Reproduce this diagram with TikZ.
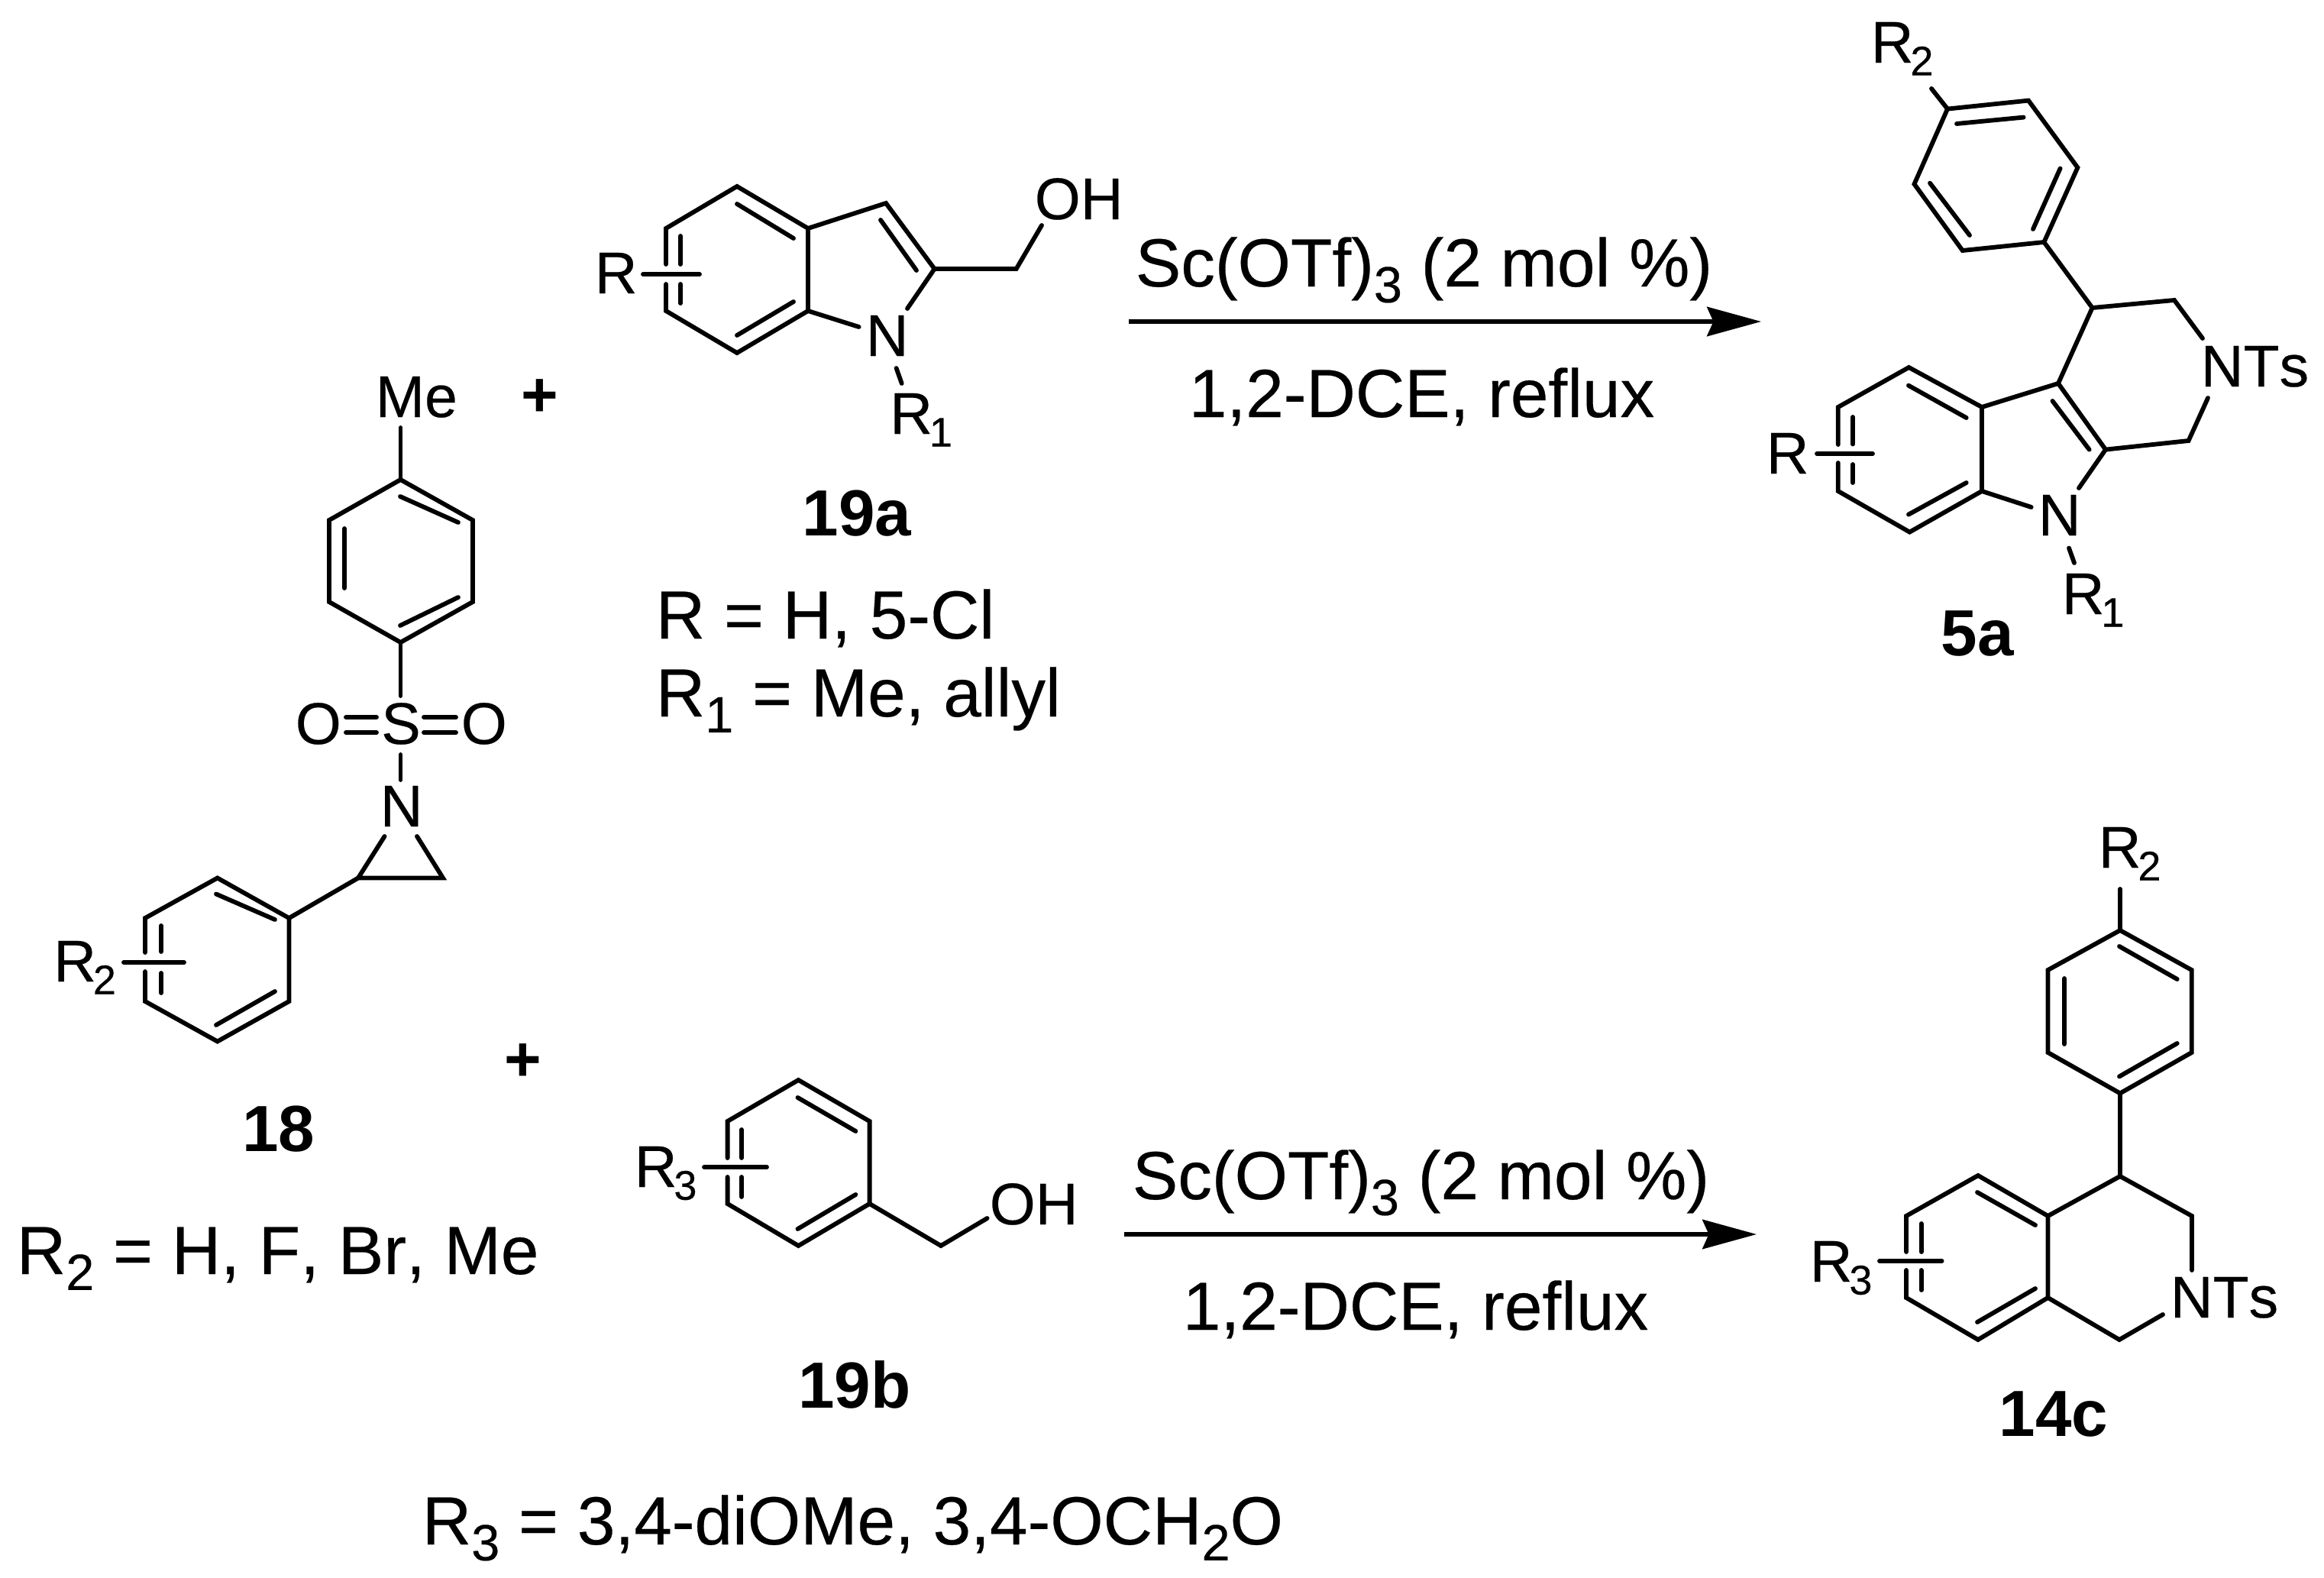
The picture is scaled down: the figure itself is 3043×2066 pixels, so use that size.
\documentclass[tikz,border=0pt]{standalone}
\usepackage{fontspec}
\setmainfont{Liberation Sans}[Kerning=Off]
\newfontfamily\hv{Liberation Sans}[FakeBold=0.3,Kerning=Off]
\usetikzlibrary{arrows.meta}
\newcommand{\chemf}{\hv\fontsize{18.5}{22}\selectfont}
\newcommand{\capf}{\hv\fontsize{21.4}{26}\selectfont}
\newcommand{\lblf}{\fontsize{20.5}{24}\selectfont\bfseries}
\newcommand{\csub}[1]{\kern-1pt\raisebox{-4pt}{\fontsize{13}{15}\selectfont #1}}
\newcommand{\bsub}[1]{\raisebox{-5pt}{\fontsize{16}{18}\selectfont #1}}
\tikzset{
  x=0.24pt,y=-0.24pt,
  bond/.style={line width=1.4pt,line cap=round,line join=miter,black},
  atomlab/.style={inner sep=0pt,anchor=base west,font=\chemf},
  captxt/.style={inner sep=0pt,anchor=base west,font=\capf},
  cmpd/.style={inner sep=0pt,anchor=base,font=\lblf},
  plusmark/.style={inner sep=0pt,font=\fontsize{20}{24}\selectfont\bfseries},
  rxnarrow/.style={line width=1.3pt,-{Stealth[length=17pt,width=9.2pt,inset=2pt]}}
}
\begin{document}
\begin{tikzpicture}
\useasboundingbox (0,0) rectangle (3043,2066);
% ---- 18
\coordinate (a1) at (524.5,628);\coordinate (a2) at (619,681);\coordinate (a3) at (619,788);
\coordinate (a4) at (524.5,841);\coordinate (a5) at (431,788);\coordinate (a6) at (431,681);
\draw[bond] (a1)--(a2)--(a3)--(a4)--(a5)--(a6)--cycle;
\coordinate (a1i) at (524,650);\coordinate (a2i) at (600,684);
\coordinate (a3i) at (600,782);\coordinate (a4i) at (524,819);
\coordinate (a5i) at (451,770);\coordinate (a6i) at (451,692);
\draw[bond] (a1i)--(a2i) (a3i)--(a4i) (a5i)--(a6i);
\node[atomlab] (me) at (491,546) {Me};
\coordinate (meb) at (524.5,560);\draw[bond] (meb)--(a1);
\node[atomlab] (so) at (498.5,974) {S};
\node[atomlab] (ol) at (386,974) {O};
\node[atomlab] (or) at (603,974) {O};
\coordinate (sb) at (524.5,911);\draw[bond] (a4)--(sb);
\coordinate (d1a) at (453,939);\coordinate (d1b) at (493,939);\coordinate (d2a) at (453,959);\coordinate (d2b) at (493,959);
\coordinate (d3a) at (555,939);\coordinate (d3b) at (597,939);\coordinate (d4a) at (555,959);\coordinate (d4b) at (597,959);
\draw[bond] (d1a)--(d1b) (d2a)--(d2b) (d3a)--(d3b) (d4a)--(d4b);
\node[atomlab] (na) at (497,1082) {N};
\coordinate (sn1) at (524.5,988);\coordinate (sn2) at (524.5,1021);\draw[bond] (sn1)--(sn2);
\coordinate (azl) at (469,1149.5);\coordinate (azr) at (580,1149.5);
\coordinate (nl) at (503.5,1095);\coordinate (nr) at (546,1095);
\draw[bond] (nl)--(azl)--(azr)--(nr);
\coordinate (b1) at (378.5,1202);\coordinate (b2) at (284.7,1149.5);\coordinate (b3) at (190,1202);
\coordinate (b3g) at (190,1247);\coordinate (b4g) at (190,1272);\coordinate (b4) at (190,1311);
\coordinate (b5) at (284.7,1363.5);\coordinate (b6) at (378.5,1311);
\draw[bond] (azl)--(b1);
\draw[bond] (b3g)--(b3)--(b2)--(b1)--(b6)--(b5)--(b4)--(b4g);
\coordinate (b2i) at (283,1170.5);\coordinate (b1i) at (360,1204);\coordinate (b6i) at (360,1298);\coordinate (b5i) at (283,1342);
\draw[bond] (b2i)--(b1i) (b6i)--(b5i);
\coordinate (bl1) at (211,1212);\coordinate (bl2) at (211,1246);\coordinate (bl3) at (211,1274);\coordinate (bl4) at (211,1300);
\draw[bond] (bl1)--(bl2) (bl3)--(bl4);
\coordinate (bc1) at (162,1260);\coordinate (bc2) at (241,1260);\draw[bond] (bc1)--(bc2);
\node[atomlab] (r2a) at (69.5,1285) {R\csub{2}};
\node[plusmark] (p1) at (707,521) {+};
\node[plusmark] (p2) at (685,1391) {+};
\node[cmpd] (c18) at (365,1507) {18};
\node[captxt] (t18) at (21,1668) {R\bsub{2} = H, F, Br, Me};
% ---- 19a
\coordinate (i1) at (965,244);\coordinate (i2) at (872,299);\coordinate (i2g) at (872,346);\coordinate (i3g) at (872,372);
\coordinate (i3) at (872,407);\coordinate (i4) at (965,462);\coordinate (i5) at (1058,407);\coordinate (i6) at (1058,299);
\draw[bond] (i2g)--(i2)--(i1)--(i6)--(i5)--(i4)--(i3)--(i3g);
\coordinate (i1a) at (965,267);\coordinate (i6a) at (1039,312);\coordinate (i4a) at (965,439);\coordinate (i5a) at (1039,395);
\draw[bond] (i1a)--(i6a) (i4a)--(i5a);
\coordinate (il1) at (891,309);\coordinate (il2) at (891,346);\coordinate (il3) at (891,372);\coordinate (il4) at (891,397);
\draw[bond] (il1)--(il2) (il3)--(il4);
\coordinate (ic1) at (842,359);\coordinate (ic2) at (916,359);\draw[bond] (ic1)--(ic2);
\node[atomlab] (ir) at (778,384) {R};
\coordinate (c3) at (1160,266);\coordinate (c2) at (1223.6,352);
\draw[bond] (i6)--(c3)--(c2);
\coordinate (c3i) at (1153,288);\coordinate (c2i) at (1200,354);\draw[bond] (c3i)--(c2i);
\node[atomlab] (in) at (1133,466) {N};
\coordinate (nb1) at (1124.6,428);\coordinate (nb2) at (1188,404);
\draw[bond] (i5)--(nb1) (c2)--(nb2);
\coordinate (ch) at (1330.7,352);\coordinate (ohb) at (1364,295);
\draw[bond] (c2)--(ch)--(ohb);
\node[atomlab] (ioh) at (1354,287) {OH};
\coordinate (nr1) at (1173.6,482);\coordinate (nr2) at (1180.7,502);\draw[bond] (nr1)--(nr2);
\node[atomlab] (ir1) at (1164.5,568) {R\csub{1}};
\node[cmpd] (c19a) at (1122,701) {19a};
\node[captxt] (t19a1) at (858,836) {R = H, 5-Cl};
\node[captxt] (t19a2) at (858,938) {R\bsub{1} = Me, allyl};
% ---- arrows
\coordinate (ar1a) at (1478,421);\coordinate (ar1b) at (2306,421);
\draw[rxnarrow] (ar1a)--(ar1b);
\node[captxt] (s1) at (1486,375) {Sc(OTf)\bsub{3} (2 mol \%)};
\node[captxt] (d1) at (1556,546) {1,2-DCE, reflux};
\coordinate (ar2a) at (1472,1616);\coordinate (ar2b) at (2300,1616);
\draw[rxnarrow] (ar2a)--(ar2b);
\node[captxt] (s2) at (1482,1570) {Sc(OTf)\bsub{3} (2 mol \%)};
\node[captxt] (d2) at (1548,1741) {1,2-DCE, reflux};
% ---- 5a
\coordinate (p1a) at (2550,142.6);\coordinate (p2a) at (2656,131.6);\coordinate (p3a) at (2720.4,219.4);
\coordinate (p4a) at (2676.4,317);\coordinate (p5a) at (2569.7,328);\coordinate (p6a) at (2506.5,241);
\draw[bond] (p1a)--(p2a)--(p3a)--(p4a)--(p5a)--(p6a)--cycle;
\coordinate (q1) at (2562,162);\coordinate (q2) at (2649.6,153.6);\coordinate (q3) at (2697.6,220.5);\coordinate (q4) at (2662,300);\coordinate (q5) at (2527,239.7);\coordinate (q6) at (2579,308);
\draw[bond] (q1)--(q2) (q3)--(q4) (q5)--(q6);
\coordinate (r2b) at (2529,116);\draw[bond] (r2b)--(p1a);
\node[atomlab] (r2c) at (2449,82) {R\csub{2}};
\coordinate (k4) at (2739.6,403);\coordinate (k3) at (2847,393);\coordinate (kn1) at (2884,443);
\coordinate (kn2) at (2891,521);\coordinate (k1) at (2865.6,577);\coordinate (k9) at (2757,588.6);\coordinate (k4a) at (2695,502);
\draw[bond] (p4a)--(k4)--(k3)--(kn1);
\draw[bond] (kn2)--(k1)--(k9)--(k4a)--(k4);
\node[atomlab] (nts1) at (2881,506) {NTs};
\coordinate (k4i) at (2687.5,525);\coordinate (k9i) at (2735.6,588.6);\draw[bond] (k4i)--(k9i);
\coordinate (kna) at (2722,639);\coordinate (knb) at (2659.7,664);\draw[bond] (k9)--(kna);
\node[atomlab] (kn) at (2668,701) {N};
\coordinate (e1) at (2595,533);\coordinate (e2) at (2499.4,481);\coordinate (e3) at (2406.8,533);\coordinate (e3g) at (2406.8,582);
\coordinate (e4g) at (2406.8,606);\coordinate (e4) at (2406.8,643);\coordinate (e5) at (2500.4,696.6);\coordinate (e6) at (2595,643);
\draw[bond] (e3g)--(e3)--(e2)--(e1)--(e6)--(e5)--(e4)--(e4g);
\draw[bond] (k4a)--(e1) (e6)--(knb);
\coordinate (f1) at (2499,504.7);\coordinate (f2) at (2574.7,547);\coordinate (f3) at (2499,673.6);\coordinate (f4) at (2574.7,632);
\draw[bond] (f1)--(f2) (f3)--(f4);
\coordinate (f5) at (2426,546);\coordinate (f6) at (2426,581.5);\coordinate (f7) at (2426,608);\coordinate (f8) at (2426,632);
\draw[bond] (f5)--(f6) (f7)--(f8);
\coordinate (f9) at (2379,594);\coordinate (f10) at (2452,594);\draw[bond] (f9)--(f10);
\node[atomlab] (kr) at (2312,620) {R};
\coordinate (kr1) at (2709,717.5);\coordinate (kr2) at (2716,737);\draw[bond] (kr1)--(kr2);
\node[atomlab] (kr1l) at (2699,804) {R\csub{1}};
\node[cmpd] (c5a) at (2589,858) {5a};
% ---- 19b
\coordinate (h1) at (1045.4,1414);\coordinate (h2) at (1138.6,1468);\coordinate (h3) at (1138.6,1576);\coordinate (h4) at (1045.4,1631);
\coordinate (h5) at (952.6,1576);\coordinate (h5g) at (952.6,1541);\coordinate (h6g) at (952.6,1516);\coordinate (h6) at (952.6,1468);
\draw[bond] (h6g)--(h6)--(h1)--(h2)--(h3)--(h4)--(h5)--(h5g);
\coordinate (g1) at (1044.5,1437);\coordinate (g2) at (1120.4,1481);\coordinate (g3) at (1120.4,1564);\coordinate (g4) at (1044.5,1609);
\draw[bond] (g1)--(g2) (g3)--(g4);
\coordinate (g5) at (971,1479);\coordinate (g6) at (971,1516);\coordinate (g7) at (971,1541);\coordinate (g8) at (971,1567);
\draw[bond] (g5)--(g6) (g7)--(g8);
\coordinate (g9) at (922,1528);\coordinate (g10) at (1004,1528);\draw[bond] (g9)--(g10);
\node[atomlab] (hr) at (830,1554) {R\csub{3}};
\coordinate (hc) at (1232,1631);\coordinate (hoh) at (1292.6,1595);\draw[bond] (h3)--(hc)--(hoh);
\node[atomlab] (hohl) at (1295,1603) {OH};
\node[cmpd] (c19b) at (1119,1843) {19b};
\node[captxt] (t19b) at (552,2022) {R\bsub{3} = 3,4-diOMe, 3,4-OCH\bsub{2}O};
% ---- 14c
\coordinate (u1) at (2776,1218);\coordinate (u2) at (2869.7,1270);\coordinate (u3) at (2869.7,1378);\coordinate (u4) at (2776,1431.4);\coordinate (u5) at (2681.5,1378);\coordinate (u6) at (2681.5,1270);
\draw[bond] (u1)--(u2)--(u3)--(u4)--(u5)--(u6)--cycle;
\coordinate (v1) at (2775,1239);\coordinate (v2) at (2850.7,1282);\coordinate (v3) at (2703,1281);\coordinate (v4) at (2703,1367);\coordinate (v5) at (2775,1409.4);\coordinate (v6) at (2850.7,1366);
\draw[bond] (v1)--(v2) (v3)--(v4) (v5)--(v6);
\coordinate (ur) at (2776,1164);\draw[bond] (ur)--(u1);
\node[atomlab] (ur2) at (2747,1136) {R\csub{2}};
\coordinate (w4) at (2776,1540);\coordinate (w3) at (2870,1592);\coordinate (wn1) at (2870,1663);\coordinate (wn2) at (2832,1721);\coordinate (w1) at (2775,1754);
\coordinate (w8a) at (2681.5,1699);\coordinate (w4a) at (2681.5,1592);
\draw[bond] (u4)--(w4)--(w3)--(wn1);
\draw[bond] (wn2)--(w1)--(w8a)--(w4a)--(w4);
\node[atomlab] (nts2) at (2841,1725) {NTs};
\coordinate (w5) at (2590,1539);\coordinate (w6) at (2496,1592);\coordinate (w6g) at (2496,1639);\coordinate (w7g) at (2496,1663);\coordinate (w7) at (2496,1699);\coordinate (w8) at (2590,1754);
\draw[bond] (w6g)--(w6)--(w5)--(w4a) (w8a)--(w8)--(w7)--(w7g);
\coordinate (y1) at (2589,1561);\coordinate (y2) at (2665,1604);\coordinate (y3) at (2589,1731);\coordinate (y4) at (2665,1687);
\draw[bond] (y1)--(y2) (y3)--(y4);
\coordinate (y5) at (2515.6,1602);\coordinate (y6) at (2515.6,1639);\coordinate (y7) at (2515.6,1663);\coordinate (y8) at (2515.6,1689);
\draw[bond] (y5)--(y6) (y7)--(y8);
\coordinate (y9) at (2461,1651);\coordinate (y10) at (2542.6,1651);\draw[bond] (y9)--(y10);
\node[atomlab] (wr) at (2369,1678) {R\csub{3}};
\node[cmpd] (c14) at (2689,1880) {14c};
\end{tikzpicture}
\end{document}
